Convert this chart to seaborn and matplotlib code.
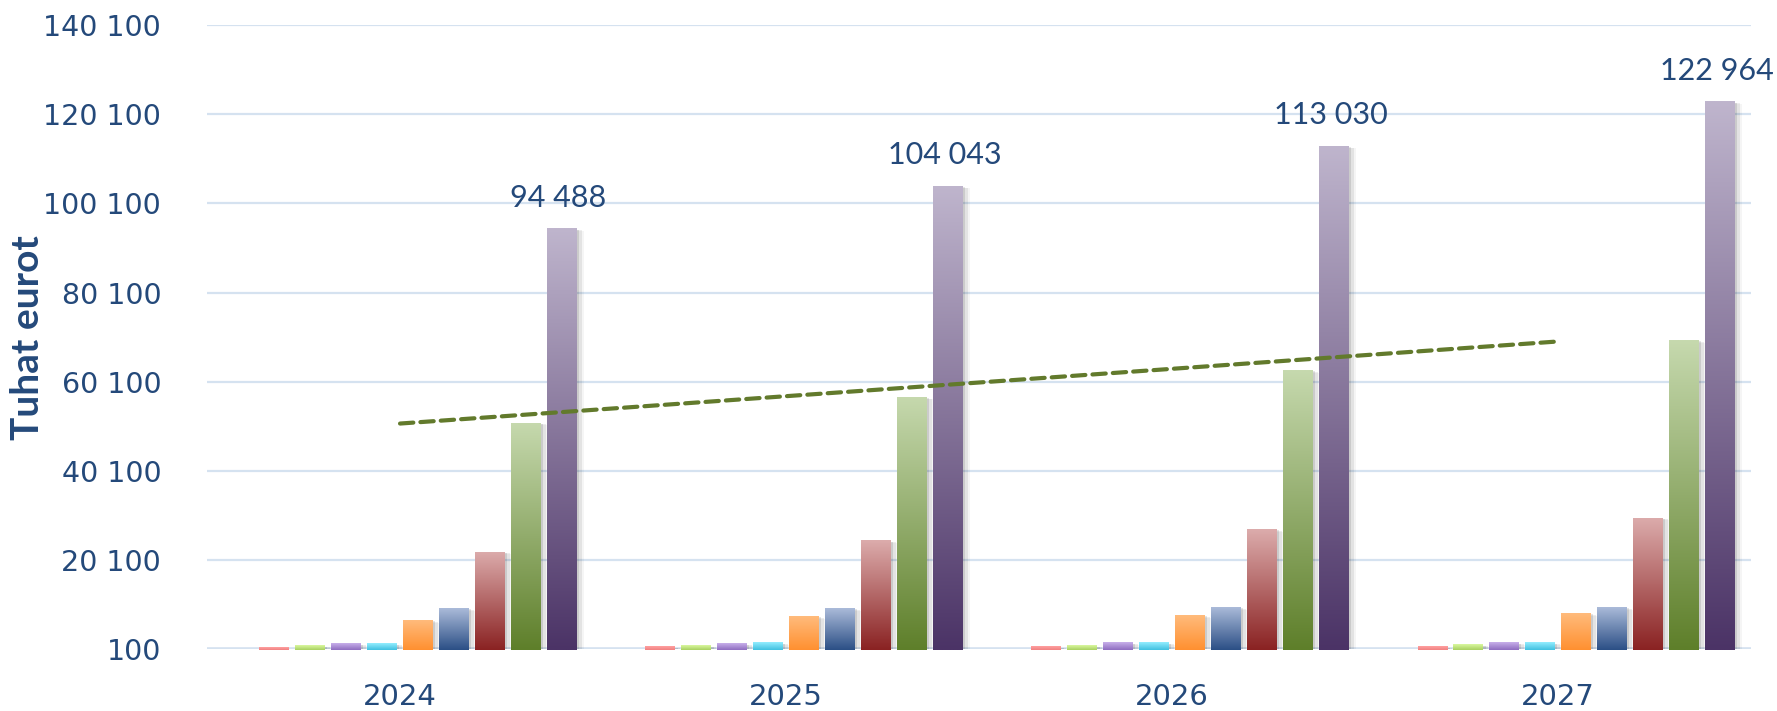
import numpy as np
import pandas as pd
import matplotlib
matplotlib.use("Agg")
import matplotlib.pyplot as plt
from matplotlib.colors import LinearSegmentedColormap
from matplotlib.patches import Rectangle
from matplotlib.transforms import offset_copy
import seaborn as sns

# ---------------- data ----------------
years = ["2024", "2025", "2026", "2027"]
series_names = ["S0", "S1", "S2", "S3", "S4", "S5", "S6", "S7", "S8", "S9"]
s0 = [0, 0, 0, 0]                      # empty slot (below axis minimum)
s1 = [550, 780, 780, 780]
s2 = [1000, 1000, 1000, 1230]
s3 = [1450, 1450, 1690, 1690]
s4 = [1450, 1690, 1690, 1690]
s5 = [6670, 7580, 7800, 8250]
s6 = [9390, 9390, 9610, 9610]
s7 = [22050, 24560, 27050, 29650]
s8 = [50950, 56770, 62680, 69430]
s9 = [94488, 104043, 113030, 122964]
y_ticks = [100, 20100, 40100, 60100, 80100, 100100, 120100, 140100]
y_label = "Tuhat eurot"

all_series = [s0, s1, s2, s3, s4, s5, s6, s7, s8, s9]
rows = []
for name, vals in zip(series_names, all_series):
    for yr, v in zip(years, vals):
        rows.append({"year": yr, "series": name, "value": v})
df = pd.DataFrame(rows)

# gradient colours (top, bottom) per series
grad = {
    "S0": ("#ffffff", "#ffffff"),
    "S1": ("#ffa0a0", "#f08080"),
    "S2": ("#daf8a0", "#a8d060"),
    "S3": ("#c8b0ea", "#8e6cc0"),
    "S4": ("#94eeff", "#40c0e0"),
    "S5": ("#ffbb7c", "#ff9030"),
    "S6": ("#abbbd9", "#2b4f86"),
    "S7": ("#dcacac", "#8a2222"),
    "S8": ("#c6d9ae", "#5e7f2a"),
    "S9": ("#bfb5cd", "#4b3366"),
}
palette = {k: v[1] for k, v in grad.items()}

text_color = "#24497a"
grid_color = "#d5e2f0"

sns.set_theme(style="white")
plt.rcParams["font.family"] = ["DejaVu Sans"]

fig = plt.figure(figsize=(17.77, 7.11), dpi=100)
ax = fig.add_axes([0.1165, 0.0865, 0.8689, 0.8783])

sns.barplot(data=df, x="year", y="value", hue="series", hue_order=series_names,
            palette=palette, width=0.93, gap=0.17, errorbar=None,
            saturation=1, legend=False, ax=ax, zorder=3)

ax.set_ylim(100, 140100)
ax.set_xlim(-0.5, 3.5)

# gradient fill + soft shadow for bars
for name, cont in zip(series_names, ax.containers):
    top_c, bot_c = grad[name]
    cmap = LinearSegmentedColormap.from_list(name + "_g", [bot_c, top_c])
    for p in cont.patches:
        x0, y0 = p.get_x(), p.get_y()
        w, h = p.get_width(), p.get_height()
        if h <= 100:
            p.set_visible(False)
            continue
        # shadow
        for i, a in enumerate([0.10, 0.07, 0.04]):
            dx = w * (0.06 + 0.07 * i)
            sh = Rectangle((x0 + dx * 0.3, y0 - 250 * (i + 1)), w + dx, h + 100 * i,
                           facecolor="#000000", alpha=a, edgecolor="none",
                           zorder=2)
            ax.add_patch(sh)
        p.set_facecolor("none")
        p.set_edgecolor("none")
        g = np.linspace(0, 1, 256).reshape(-1, 1)
        im = ax.imshow(g, cmap=cmap, aspect="auto", origin="lower",
                       extent=(x0, x0 + w, y0, y0 + h), zorder=3,
                       interpolation="bilinear")
        im.set_clip_path(p)

ax.set_xlim(-0.5, 3.5)
ax.set_ylim(100, 140100)

# trend line of the green series
xs = np.arange(len(years))
coef = np.polyfit(xs, s8, 1)
ax.plot(xs, np.polyval(coef, xs), color="#627a2c", lw=3.0,
        ls=(0, (3.2, 1.7)), dash_capstyle="round", zorder=5)

# data labels for the largest series
last = ax.containers[-1]
lbl_tr = offset_copy(ax.transData, fig=fig, x=-3, y=0, units="dots")
for p, v in zip(last.patches, s9):
    ax.text(p.get_x() + p.get_width() / 2, v + 3800,
            f"{v:,.0f}".replace(",", " "), ha="center", va="bottom",
            fontsize=22, color=text_color, family=["Lato", "DejaVu Sans"],
            clip_on=False, zorder=6, transform=lbl_tr)

# axes styling
ax.set_yticks(y_ticks)
ax.set_yticklabels([f"{v:,.0f}".replace(",", " ") for v in y_ticks])
ax.yaxis.grid(True, color=grid_color, lw=1.6, zorder=0)
ax.set_axisbelow(True)
for s in ax.spines.values():
    s.set_visible(False)
ax.axhline(100, color=grid_color, lw=2.6, zorder=1)
ax.tick_params(axis="y", length=0, pad=33, labelsize=20.5, labelcolor=text_color)
ax.tick_params(axis="x", length=0, pad=24, labelsize=21, labelcolor=text_color)
ax.set_xlabel("")
ax.set_ylabel(y_label, fontsize=28, fontweight="bold", color=text_color,
              family=["Lato", "DejaVu Sans"])
ax.yaxis.set_label_coords(-0.105, 0.5)

fig.savefig("out.png", dpi=100, facecolor="white")
